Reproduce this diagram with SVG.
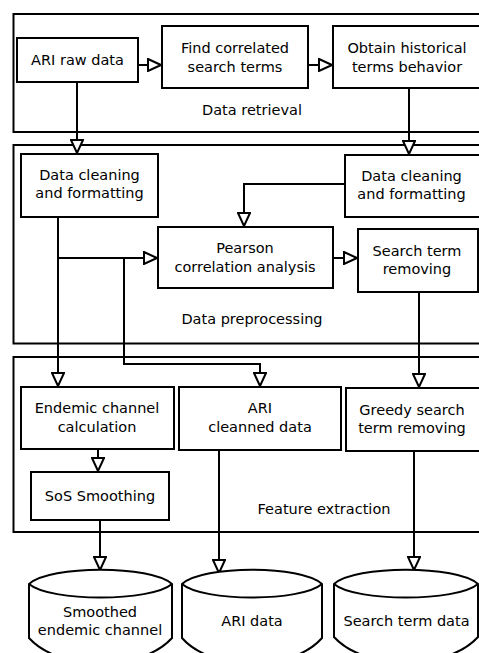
<svg xmlns="http://www.w3.org/2000/svg" width="479" height="653" viewBox="0 0 479 653">
  <style>
    .box { fill: #ffffff; stroke: #000000; stroke-width: 2; }
    .stage { fill: none; stroke: #000000; stroke-width: 2; }
    .wire { fill: none; stroke: #000000; stroke-width: 2; }
    text { font-family: "DejaVu Sans", "Liberation Sans", sans-serif; font-size: 14.5px; fill: #000000; text-anchor: middle; }
  </style>
  <defs>
    <marker id="arrow" markerUnits="userSpaceOnUse" markerWidth="16" markerHeight="14" viewBox="-1 -1 16 14" refX="13" refY="6" orient="auto">
      <path d="M0,0 L13,6 L0,12 Z" fill="#ffffff" stroke="#000000" stroke-width="2" stroke-linejoin="miter"/>
    </marker>
  </defs>
  <rect x="0" y="0" width="479" height="653" fill="#ffffff"/>

  <!-- stage frames -->
  <g id="stage-retrieval">
    <rect class="stage" x="13.5" y="14" width="490" height="118"/>
    <text x="252" y="115">Data retrieval</text>
  </g>
  <g id="stage-preprocessing">
    <rect class="stage" x="13.5" y="145" width="490" height="198.5"/>
    <text x="252" y="324">Data preprocessing</text>
  </g>
  <g id="stage-features">
    <rect class="stage" x="13.5" y="357" width="490" height="175"/>
    <text x="324" y="514">Feature extraction</text>
  </g>

  <!-- connectors -->
  <g id="connectors">
    <path class="wire" d="M138,65 H161" marker-end="url(#arrow)"/>
    <path class="wire" d="M308,65 H332" marker-end="url(#arrow)"/>
    <path class="wire" d="M77,82 V153" marker-end="url(#arrow)"/>
    <path class="wire" d="M409,88 V154" marker-end="url(#arrow)"/>
    <path class="wire" d="M345,184 H244 V226" marker-end="url(#arrow)"/>
    <path class="wire" d="M333,258 H357" marker-end="url(#arrow)"/>
    <path class="wire" d="M58,217 V386" marker-end="url(#arrow)"/>
    <path class="wire" d="M58,258 H157" marker-end="url(#arrow)"/>
    <path class="wire" d="M124,258 V364 H260 V386" marker-end="url(#arrow)"/>
    <path class="wire" d="M419,292 V387" marker-end="url(#arrow)"/>
    <path class="wire" d="M98,449 V471" marker-end="url(#arrow)"/>
    <path class="wire" d="M100,520 V570" marker-end="url(#arrow)"/>
    <path class="wire" d="M219,450 V573" marker-end="url(#arrow)"/>
    <path class="wire" d="M414,451 V570" marker-end="url(#arrow)"/>
  </g>

  <!-- retrieval nodes -->
  <g id="ari-raw">
    <rect class="box" x="17" y="38" width="121" height="44"/>
    <text x="77.5" y="65">ARI raw data</text>
  </g>
  <g id="find-terms">
    <rect class="box" x="162" y="26" width="146" height="62"/>
    <text x="235" y="53">Find correlated</text>
    <text x="235" y="72">search terms</text>
  </g>
  <g id="historical">
    <rect class="box" x="333" y="26" width="170" height="62"/>
    <text x="407" y="53">Obtain historical</text>
    <text x="407" y="72">terms behavior</text>
  </g>

  <!-- preprocessing nodes -->
  <g id="clean-ari">
    <rect class="box" x="21" y="154" width="137" height="63"/>
    <text x="89.5" y="180">Data cleaning</text>
    <text x="89.5" y="198">and formatting</text>
  </g>
  <g id="clean-terms">
    <rect class="box" x="345" y="155" width="160" height="62"/>
    <text x="411.5" y="181">Data cleaning</text>
    <text x="411.5" y="199">and formatting</text>
  </g>
  <g id="pearson">
    <rect class="box" x="158" y="227" width="175" height="61"/>
    <text x="245" y="253">Pearson</text>
    <text x="245" y="272">correlation analysis</text>
  </g>
  <g id="term-removing">
    <rect class="box" x="358" y="229" width="120" height="63"/>
    <text x="417" y="256">Search term</text>
    <text x="417" y="274">removing</text>
  </g>

  <!-- feature extraction nodes -->
  <g id="endemic">
    <rect class="box" x="21" y="387" width="153" height="62"/>
    <text x="97" y="413">Endemic channel</text>
    <text x="97" y="432">calculation</text>
  </g>
  <g id="ari-clean">
    <rect class="box" x="179" y="387" width="162" height="63"/>
    <text x="260" y="413">ARI</text>
    <text x="260" y="432">cleanned data</text>
  </g>
  <g id="greedy">
    <rect class="box" x="346" y="388" width="160" height="63"/>
    <text x="412" y="415">Greedy search</text>
    <text x="412" y="433">term removing</text>
  </g>
  <g id="sos">
    <rect class="box" x="31" y="472" width="138" height="48"/>
    <text x="100" y="501">SoS Smoothing</text>
  </g>

  <!-- data stores -->
  <g id="store-endemic">
    <path class="box" d="M29,584 C50,565 151,565 172,584 V638 C141,672 60,672 29,638 Z"/>
    <path class="wire" d="M29,584 C50,602 151,602 172,584"/>
    <text x="100" y="617">Smoothed</text>
    <text x="100" y="635">endemic channel</text>
  </g>
  <g id="store-ari">
    <path class="box" d="M182,584 C203,565 301,565 322,584 V638 C292,672 212,672 182,638 Z"/>
    <path class="wire" d="M182,584 C203,602 301,602 322,584"/>
    <text x="252" y="626">ARI data</text>
  </g>
  <g id="store-terms">
    <path class="box" d="M334,584 C355,565 457,565 478,584 V637 C447,671 365,671 334,637 Z"/>
    <path class="wire" d="M334,584 C355,602 457,602 478,584"/>
    <text x="406.5" y="626">Search term data</text>
  </g>
</svg>
